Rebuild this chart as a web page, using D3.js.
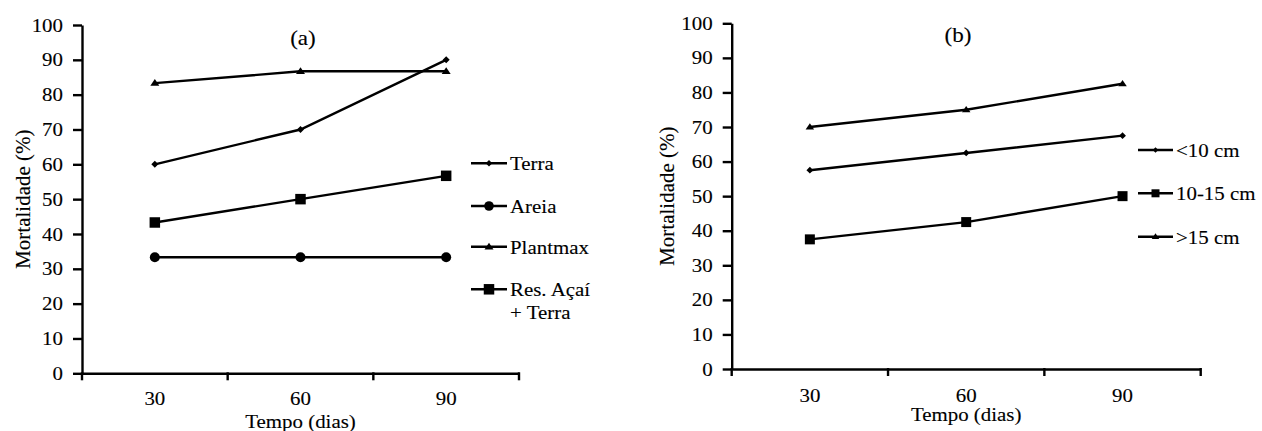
<!DOCTYPE html>
<html>
<head>
<meta charset="utf-8">
<script src="https://cdn.jsdelivr.net/npm/d3@7"></script>
<style>
  html, body { margin: 0; padding: 0; background: #fff; }
  svg { display: block; }
  svg text { font-family: "Liberation Serif", "DejaVu Serif", serif !important; fill: #000; stroke: #000; stroke-width: 0.12px; }
</style>
</head>
<body>
<svg id="chart" width="1262" height="431" font-family="Liberation Serif, serif"></svg>
<script>
// ---- data ----
const days = [30, 60, 90];
const yTicks = [0, 10, 20, 30, 40, 50, 60, 70, 80, 90, 100];

const seriesNamesA = ["Terra", "Areia", "Plantmax", "Res. Açaí|+ Terra"];
const terra    = [60, 70, 90];
const areia    = [33.3, 33.3, 33.3];
const plantmax = [83.3, 86.7, 86.7];
const resAcai  = [43.3, 50, 56.7];

const seriesNamesB = ["<10 cm", "10-15 cm", ">15 cm"];
const lt10    = [57.5, 62.5, 67.5];
const b10to15 = [37.5, 42.5, 50];
const gt15    = [70, 75, 82.5];

const panelA = { label: "(a)", names: seriesNamesA, values: [terra, areia, plantmax, resAcai],
  markers: ["diamond", "circle", "triangle", "square"] };
const panelB = { label: "(b)", names: seriesNamesB, values: [lt10, b10to15, gt15],
  markers: ["diamond", "square", "triangle"] };

// ---- layout ----
const FONT = "Liberation Serif";
const FS = 19;
const svg = d3.select("#chart");

const layoutA = { x0: 82, x1: 519, yTop: 25, yBot: 373.3, titleX: 23, labelX: 303, labelY: 45,
  legLine: [471, 507], legText: 510, legRows: [163.3, 206, 246.7, 289.3], tickLabelDy: 32, xTitleY: 428,
  markerSize: { diamond: 7, circle: 5, triangle: 9, square: 10.5 },
  legMarkerSize: { diamond: 6.5, circle: 4.8, triangle: 9, square: 10.5 } };
const layoutB = { x0: 731.7, x1: 1200.7, yTop: 23.3, yBot: 369, titleX: 667, labelX: 958, labelY: 41.5,
  legLine: [1138, 1173], legText: 1176, legRows: [150, 193.3, 236.7], tickLabelDy: 32.5, xTitleY: 421,
  markerSize: { diamond: 6.8, circle: 5, triangle: 8.5, square: 10 },
  legMarkerSize: { diamond: 5.5, circle: 4.5, triangle: 7.5, square: 8 } };

function markerPath(type, s) {
  const h = s / 2;
  switch (type) {
    case "diamond": return `M0,${-h}L${h},0L0,${h}L${-h},0Z`;
    case "square": return `M${-h},${-h}H${h}V${h}H${-h}Z`;
    case "triangle": { const th = s * 0.75; return `M0,${-th*0.6}L${h},${th*0.4}L${-h},${th*0.4}Z`; }
    case "circle": return null;
  }
}

function drawMarker(g, type, cx, cy, s) {
  if (type === "circle") {
    g.append("circle").attr("cx", cx).attr("cy", cy).attr("r", s).attr("fill", "#000");
  } else {
    g.append("path").attr("d", markerPath(type, s)).attr("transform", `translate(${cx},${cy})`).attr("fill", "#000");
  }
}

function drawPanel(panel, L) {
  const g = svg.append("g").attr("font-family", FONT);
  const x = d3.scaleBand().domain(days).range([L.x0, L.x1]).paddingInner(0).paddingOuter(0);
  const y = d3.scaleLinear().domain([0, 100]).range([L.yBot, L.yTop]);

  // y axis
  const yAxis = g.append("g").attr("transform", `translate(${L.x0},0)`)
    .call(d3.axisLeft(y).tickValues(yTicks).tickSize(9).tickSizeOuter(0).tickPadding(10));
  yAxis.attr("font-family", FONT);
  yAxis.select(".domain").attr("stroke", "#000").attr("stroke-width", 2.4);
  yAxis.selectAll(".tick line").attr("stroke", "#000").attr("stroke-width", 2.4);
  yAxis.selectAll(".tick text").attr("font-size", FS).attr("class", "hstretch");

  // x axis (labels centred in bands, ticks at band boundaries)
  const xAxis = g.append("g").attr("transform", `translate(0,${L.yBot})`)
    .call(d3.axisBottom(x).tickSize(0).tickSizeOuter(0).tickPadding(0));
  xAxis.attr("font-family", FONT);
  xAxis.select(".domain").attr("stroke", "#000").attr("stroke-width", 2.4);
  xAxis.selectAll(".tick text").attr("font-size", FS).attr("dy", L.tickLabelDy).attr("y", 0).attr("class", "hstretch");
  const bounds = days.map(d => x(d)).concat([x(days[days.length - 1]) + x.bandwidth()]);
  xAxis.selectAll(".bt").data(bounds).enter().append("line")
    .attr("x1", d => d).attr("x2", d => d).attr("y1", -1).attr("y2", 7)
    .attr("stroke", "#000").attr("stroke-width", 2.4);

  // axis titles
  g.append("text").attr("class", "hstretch")
    .attr("x", (L.x0 + L.x1) / 2 + 0).attr("y", L.xTitleY).attr("text-anchor", "middle")
    .attr("font-size", FS).text("Tempo (dias)");
  g.append("text")
    .attr("transform", `translate(${L.titleX},${(L.yTop + L.yBot) / 2}) rotate(-90)`)
    .attr("text-anchor", "middle").attr("dy", "0.35em")
    .attr("font-size", 21).text("Mortalidade (%)");

  // panel label
  g.append("text").attr("class", "hstretch").attr("x", L.labelX).attr("y", L.labelY)
    .attr("text-anchor", "middle").attr("font-size", 21).text(panel.label);

  // series
  const line = d3.line().x((d, i) => x(days[i]) + x.bandwidth() / 2).y(d => y(d));
  panel.values.forEach((vals, si) => {
    g.append("path").datum(vals).attr("d", line).attr("fill", "none")
      .attr("stroke", "#000").attr("stroke-width", 2.4);
    const mg = g.append("g");
    vals.forEach((v, i) => drawMarker(mg, panel.markers[si], x(days[i]) + x.bandwidth() / 2, y(v), L.markerSize[panel.markers[si]]));
  });

  // legend
  panel.names.forEach((name, si) => {
    const ry = L.legRows[si];
    g.append("line").attr("x1", L.legLine[0]).attr("x2", L.legLine[1]).attr("y1", ry).attr("y2", ry)
      .attr("stroke", "#000").attr("stroke-width", 2.4);
    drawMarker(g, panel.markers[si], (L.legLine[0] + L.legLine[1]) / 2, ry, L.legMarkerSize[panel.markers[si]]);
    const lines = name.split("|");
    lines.forEach((t, li) => {
      g.append("text").attr("class", "hstretch").attr("x", L.legText).attr("y", ry + 6.8 + li * 22.5)
        .attr("font-size", FS).text(t);
    });
  });
}

drawPanel(panelA, layoutA);
drawPanel(panelB, layoutB);

// widen horizontal text slightly to match the reference's proportions
const STRETCH = 1.1;
svg.selectAll("text.hstretch").each(function () {
  const len = this.getComputedTextLength();
  d3.select(this).attr("textLength", len * STRETCH).attr("lengthAdjust", "spacingAndGlyphs");
});
</script>
</body>
</html>
